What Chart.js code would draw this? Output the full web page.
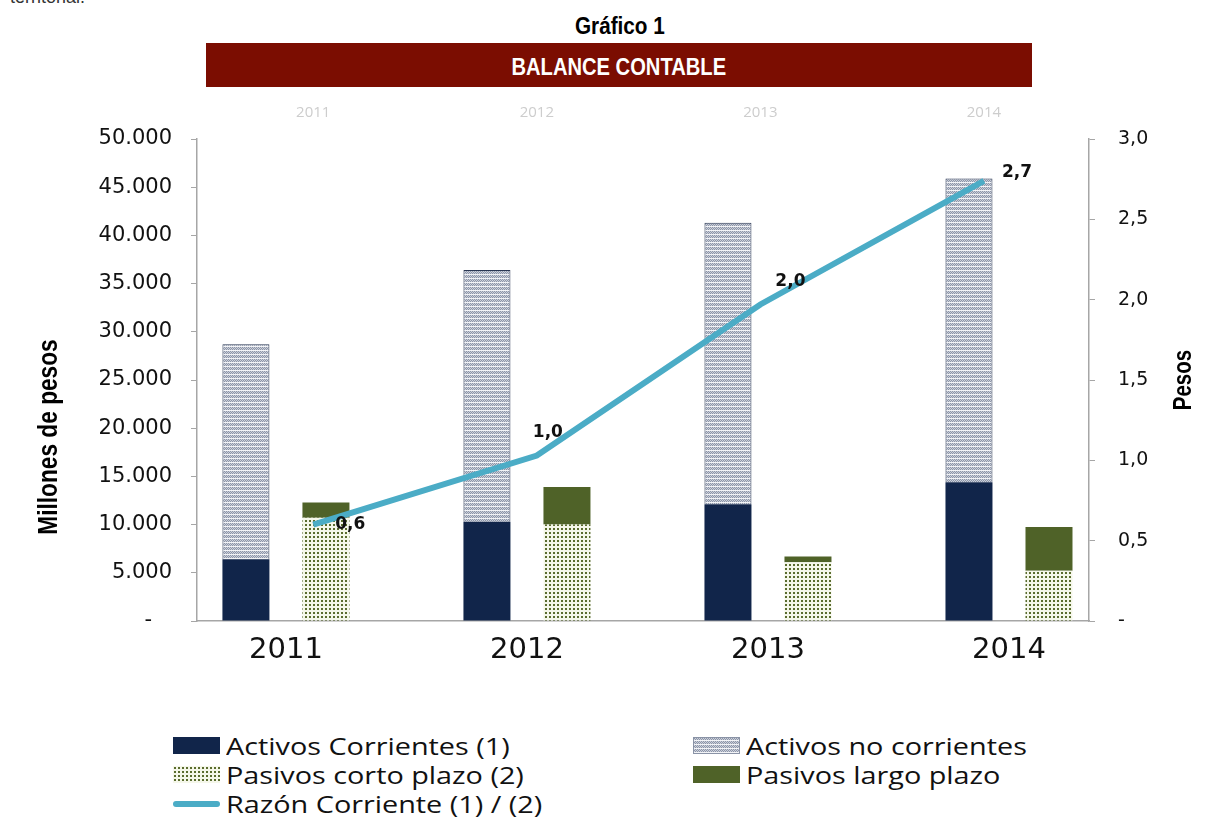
<!DOCTYPE html>
<html>
<head>
<meta charset="utf-8">
<script src="https://cdn.jsdelivr.net/npm/chart.js@4.4.1/dist/chart.umd.min.js"></script>
<style>
  body { margin: 0; width: 1220px; height: 817px; background: #fff; position: relative; overflow: hidden; font-family: 'Liberation Sans', Arial, sans-serif; }
  #intro { position: absolute; left: 10px; top: -13px; font-size: 18px; color: #333; }
  .narrow { display: inline-block; transform-origin: center; font-family: 'Liberation Sans', Arial, sans-serif; font-weight: bold; white-space: nowrap; }
  #num { position: absolute; left: 0; width: 1240px; top: 13px; text-align: center; color: #000; }
  #num .narrow { font-size: 23px; transform: scaleX(0.9); }
  #banner { position: absolute; left: 206px; top: 43px; width: 826px; height: 44px; background: #7b0d01; color: #fff; display: flex; align-items: center; justify-content: center; }
  #banner .narrow { font-size: 24px; transform: scaleX(0.84); margin-top: 4px; }
  #wrap { position: absolute; left: 0; top: 95px; width: 1220px; height: 600px; }
  #legend { position: absolute; left: 0; top: 731px; width: 1220px; height: 86px; font-family: 'Open Sans', sans-serif; font-size: 24px; color: #111; }
  .item { position: absolute; height: 29px; display: flex; align-items: center; white-space: nowrap; }
  .item canvas { margin-right: 6px; }
  .item span { display: inline-block; transform: scaleX(1.2); transform-origin: left center; }
</style>
</head>
<body>
<div id="intro">territorial.</div>
<div id="num"><span class="narrow">Gráfico 1</span></div>
<div id="banner"><span class="narrow">BALANCE CONTABLE</span></div>
<div id="wrap"><canvas id="balance" width="1220" height="600"></canvas></div>
<div id="legend"></div>
<script>
// data (millones de pesos)
const years = ['2011', '2012', '2013', '2014'];
const activosCorrientes = [6400, 10300, 12100, 14400];
const activosNoCorrientes = [22300, 26100, 29200, 31500];
const pasivosCortoPlazo = [10700, 10000, 6100, 5200];
const pasivosLargoPlazo = [1600, 3900, 600, 4550];
const razonCorriente = [0.6, 1.03, 1.97, 2.74];
const seriesNames = ['Activos Corrientes (1)', 'Activos no corrientes', 'Pasivos corto plazo (2)', 'Pasivos largo plazo', 'Razón Corriente (1) / (2)'];

const NAVY = '#11254a';
const OLIVE = '#4f6228';
const AQUA = '#4bacc6';

function dotsPattern() {
    const c = document.createElement('canvas');
    c.width = 4; c.height = 4;
    const g = c.getContext('2d');
    g.fillStyle = '#cdd1da';
    g.fillRect(0, 0, 4, 4);
    g.fillStyle = '#8c95a9';
    g.fillRect(0, 0, 1, 1); g.fillRect(2, 0, 1, 1);
    g.fillRect(1, 1, 1, 1); g.fillRect(3, 1, 1, 1);
    g.fillRect(0, 2, 1, 1); g.fillRect(2, 2, 1, 1);
    g.fillStyle = '#f2f3f6';
    g.fillRect(0, 3, 4, 1);
    return g.createPattern(c, 'repeat');
}

function greenGrid() {
    const c = document.createElement('canvas');
    c.width = 4; c.height = 4;
    const g = c.getContext('2d');
    g.fillStyle = '#f5f7ea';
    g.fillRect(0, 0, 4, 4);
    g.fillStyle = '#5a6c2e';
    g.fillRect(1, 1, 2, 2);
    return g.createPattern(c, 'repeat');
}

const thousands = v => String(v).replace(/\B(?=(\d{3})+(?!\d))/g, '.');
const decimal = v => v.toFixed(1).replace('.', ',');
const toPoints = arr => arr.map((v, i) => ({x: i, y: v}));

// offsets of the ratio labels, in pixels
const labelOffsets = [[22, 0], [-4, -23], [15, -23], [18, -8]];

const ratioLabels = {
    id: 'ratioLabels',
    afterDatasetsDraw(chart) {
        const ctx = chart.ctx;
        const meta = chart.getDatasetMeta(4);
        ctx.save();
        ctx.font = 'bold 17px "DejaVu Sans", sans-serif';
        ctx.fillStyle = '#111';
        ctx.textAlign = 'left';
        ctx.textBaseline = 'middle';
        meta.data.forEach((pt, i) => {
            const [dx, dy] = labelOffsets[i];
            ctx.fillText(decimal(razonCorriente[i]), pt.x + dx, pt.y + dy);
        });
        ctx.restore();
    }
};

function narrowText(ctx, text, x, y, size, squeeze) {
    ctx.save();
    ctx.translate(x, y);
    ctx.rotate(-Math.PI / 2);
    ctx.scale(squeeze, 1);
    ctx.fillStyle = '#000';
    ctx.textAlign = 'center';
    ctx.textBaseline = 'middle';
    ctx.font = 'bold ' + size + 'px "Liberation Sans", Arial, sans-serif';
    ctx.fillText(text, 0, 0);
    ctx.restore();
}

const axisTitles = {
    id: 'axisTitles',
    afterDraw(chart) {
        const area = chart.chartArea;
        const mid = (area.top + area.bottom) / 2;
        narrowText(chart.ctx, 'Millones de pesos', 50, mid + 57, 27, 0.84);
        narrowText(chart.ctx, 'Pesos', 1184, mid, 25, 0.82);
    }
};

// activos and pasivos each sit on their own hidden axis, shifted left / right of the year
const barDefaults = {type: 'bar', yAxisID: 'y', order: 1, grouped: false, categoryPercentage: 1, barPercentage: 0.39, maxBarThickness: 47};
const hiddenAxis = (min, max) => ({type: 'linear', display: false, min, max, offset: false, ticks: {stepSize: 1, includeBounds: false}});

const ctx = document.getElementById('balance').getContext('2d');
const chart = new Chart(ctx, {
    data: {
        datasets: [
            {...barDefaults, xAxisID: 'xa', label: seriesNames[0], stack: 'activos', data: toPoints(activosCorrientes), backgroundColor: NAVY},
            {...barDefaults, xAxisID: 'xa', label: seriesNames[1], stack: 'activos', data: toPoints(activosNoCorrientes), backgroundColor: dotsPattern(), borderColor: '#2a3753', borderWidth: 1},
            {...barDefaults, xAxisID: 'xp', label: seriesNames[2], stack: 'pasivos', data: toPoints(pasivosCortoPlazo), backgroundColor: greenGrid()},
            {...barDefaults, xAxisID: 'xp', label: seriesNames[3], stack: 'pasivos', data: toPoints(pasivosLargoPlazo), backgroundColor: OLIVE},
            {type: 'line', label: seriesNames[4], xAxisID: 'x2', yAxisID: 'y2', order: 0, data: toPoints(razonCorriente),
             borderColor: AQUA, borderWidth: 6, pointRadius: 0, tension: 0, fill: false}
        ]
    },
    options: {
        responsive: false,
        animation: false,
        devicePixelRatio: 1,
        layout: {padding: 0},
        plugins: {legend: {display: false}, tooltip: {enabled: false}},
        scales: {
            x: {
                type: 'linear', position: 'bottom', min: -0.369, max: 3.332, offset: false,
                afterFit: s => { s.height = 74; },
                grid: {display: false, drawTicks: false, offset: false},
                border: {display: true, color: '#a6a6a6', width: 1.5},
                ticks: {stepSize: 1, includeBounds: false, callback: v => years[v], font: {family: 'DejaVu Sans', size: 29}, color: '#111', padding: 12, maxRotation: 0}
            },
            xa: hiddenAxis(-0.203, 3.498),
            xp: hiddenAxis(-0.535, 3.166),
            x2: {
                type: 'linear', position: 'top', min: -0.52, max: 3.47, offset: false,
                afterFit: s => { s.height = 44; },
                grid: {display: false, drawTicks: false},
                border: {display: false},
                ticks: {stepSize: 1, includeBounds: false, callback: v => years[v], font: {family: 'Open Sans', size: 15}, color: '#cdcdcd', padding: 17, maxRotation: 0}
            },
            y: {
                position: 'left', min: 0, max: 50000, stacked: true,
                afterFit: s => { s.width = 197; },
                grid: {drawOnChartArea: false, drawTicks: true, tickLength: 6, color: '#a6a6a6'},
                border: {display: true, color: '#a6a6a6', width: 1.5},
                ticks: {stepSize: 5000, callback: v => v === 0 ? '-   ' : thousands(v), font: {family: 'DejaVu Sans', size: 21}, color: '#111', padding: 19}
            },
            y2: {
                position: 'right', min: 0, max: 3,
                afterFit: s => { s.width = 131; },
                grid: {drawOnChartArea: false, drawTicks: true, tickLength: 6, color: '#a6a6a6'},
                border: {display: true, color: '#a6a6a6', width: 1.5},
                ticks: {stepSize: 0.5, callback: v => v === 0 ? '-' : decimal(v), font: {family: 'DejaVu Sans', size: 19}, color: '#111', padding: 23}
            }
        }
    },
    plugins: [ratioLabels, axisTitles]
});

// legend laid out in two columns like the original
const legendSlots = [[173, 0], [693, 0], [173, 29], [693, 29], [173, 58]];
const legendEl = document.getElementById('legend');
chart.data.datasets.forEach((ds, i) => {
    const item = document.createElement('div');
    item.className = 'item';
    item.style.left = legendSlots[i][0] + 'px';
    item.style.top = legendSlots[i][1] + 'px';
    const sw = document.createElement('canvas');
    sw.width = 47; sw.height = 17;
    const g = sw.getContext('2d');
    if (ds.type === 'line') {
        g.strokeStyle = AQUA; g.lineWidth = 6; g.lineCap = 'round';
        g.beginPath(); g.moveTo(3, 9); g.lineTo(44, 9); g.stroke();
    } else {
        g.fillStyle = i === 1 ? dotsPattern() : i === 2 ? greenGrid() : ds.backgroundColor;
        g.fillRect(0, 0, 47, 17);
        if (i === 1) { g.strokeStyle = '#8a93a6'; g.strokeRect(0.5, 0.5, 46, 16); }
    }
    item.appendChild(sw);
    const t = document.createElement('span');
    t.textContent = ds.label;
    item.appendChild(t);
    legendEl.appendChild(item);
});
</script>
</body>
</html>
